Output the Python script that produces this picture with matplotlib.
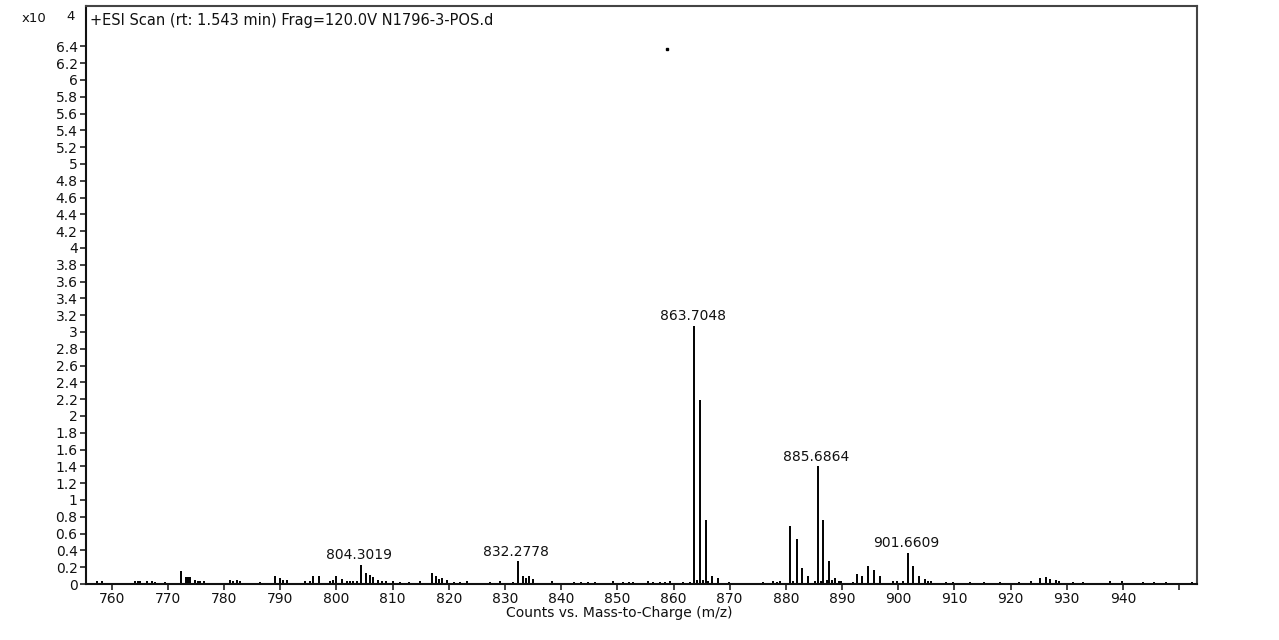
import numpy as np
import matplotlib
matplotlib.use("Agg")
import matplotlib.pyplot as plt
from matplotlib.ticker import FixedLocator

# m/z values and counts (x10^4)
mz = [757.3, 758.2, 762.0, 764.1, 764.6, 765.0, 766.2, 767.1, 767.7, 769.4,
      772.3, 773.2, 773.6, 774.0, 774.8, 775.3, 775.7, 776.4, 781.0, 781.6,
      782.3, 782.8, 786.3, 789.0, 789.9, 790.5, 791.2, 794.4, 795.2, 795.8,
      796.9, 798.8, 799.4, 800.0, 800.9, 801.8, 802.4, 803.0, 803.6, 804.3019,
      805.2, 805.9, 806.5, 807.4, 808.1, 808.9, 810.0, 811.3, 813.0, 814.8,
      817.0, 817.7, 818.2, 818.7, 819.6, 821.0, 822.0, 823.2, 827.3, 829.1,
      831.4, 832.2778, 833.2, 833.8, 834.2, 835.0, 838.3, 842.2, 843.5, 844.7,
      846.0, 849.2, 851.0, 852.0, 852.8, 855.4, 856.3, 857.6, 858.5, 859.3,
      861.7, 863.0, 863.7048, 864.2, 864.71, 865.2, 865.71, 866.2, 866.8, 867.9,
      869.9, 876.0, 877.7, 878.4, 879.0, 880.8, 881.3, 881.9, 882.9, 883.9,
      885.2, 885.6864, 886.2, 886.7, 887.3, 887.7, 888.3, 888.7, 889.4, 889.9,
      891.9, 892.7, 893.6, 894.6, 895.7, 896.7, 899.1, 899.8, 900.8, 901.6609,
      902.7, 903.7, 904.7, 905.3, 905.8, 908.6, 909.8, 912.8, 915.2, 918.1,
      921.5, 923.6, 925.2, 926.3, 927.1, 928.1, 928.7, 931.1, 932.9, 937.7,
      939.8, 943.6, 945.5, 947.6, 952.3]
counts = [0.03, 0.03, 0.01, 0.04, 0.03, 0.03, 0.03, 0.03, 0.02, 0.02,
          0.15, 0.08, 0.08, 0.08, 0.05, 0.04, 0.04, 0.03, 0.05, 0.04,
          0.05, 0.04, 0.02, 0.10, 0.07, 0.05, 0.05, 0.03, 0.03, 0.09,
          0.09, 0.03, 0.05, 0.09, 0.06, 0.04, 0.03, 0.03, 0.03, 0.23,
          0.13, 0.11, 0.08, 0.05, 0.04, 0.03, 0.03, 0.02, 0.02, 0.03,
          0.13, 0.09, 0.06, 0.07, 0.05, 0.02, 0.02, 0.03, 0.02, 0.03,
          0.02, 0.27, 0.09, 0.07, 0.09, 0.06, 0.03, 0.02, 0.02, 0.02,
          0.02, 0.03, 0.02, 0.02, 0.02, 0.03, 0.02, 0.02, 0.02, 0.03,
          0.02, 0.02, 3.07, 0.05, 2.19, 0.05, 0.76, 0.03, 0.09, 0.07,
          0.02, 0.02, 0.03, 0.02, 0.04, 0.69, 0.04, 0.54, 0.19, 0.10,
          0.04, 1.40, 0.04, 0.76, 0.05, 0.27, 0.05, 0.07, 0.03, 0.04,
          0.02, 0.12, 0.09, 0.21, 0.17, 0.09, 0.03, 0.03, 0.03, 0.37,
          0.21, 0.09, 0.06, 0.03, 0.04, 0.02, 0.02, 0.02, 0.02, 0.02,
          0.02, 0.03, 0.07, 0.08, 0.06, 0.05, 0.04, 0.02, 0.02, 0.03,
          0.03, 0.02, 0.02, 0.02, 0.02]

# labelled peaks
label_mz = [804.3019, 832.2778, 863.7048, 885.6864, 901.6609]
label_counts = [0.23, 0.27, 3.07, 1.40, 0.37]

title = "+ESI Scan (rt: 1.543 min) Frag=120.0V N1796-3-POS.d"
xlabel = "Counts vs. Mass-to-Charge (m/z)"
xtick_vals = list(range(760, 951, 10))
ytick_vals = [round(0.2 * i, 1) for i in range(33)]

plt.rcParams['font.family'] = ['DejaVu Sans']
fs = 10
fig = plt.figure(figsize=(12.79, 6.4), dpi=100)
ax = fig.add_axes([0.0672, 0.0875, 0.9359 - 0.0672, 0.9906 - 0.0875])

ax.vlines(mz, 0, counts, color='black', linewidth=1.4)
# stray speck in the plot area
ax.plot([858.9], [6.37], marker='s', markersize=1.5, color='black', linestyle='none')

for m, c in zip(label_mz, label_counts):
    ax.annotate(f"{m:.4f}", xy=(m, c), xytext=(-1, 2), textcoords='offset points',
                ha='center', va='bottom', fontsize=fs, color='#111111')

ax.set_xlim(755.4, 953.2)
ax.set_ylim(0, 6.88)

ax.xaxis.set_major_locator(FixedLocator(xtick_vals))
ax.set_xticklabels([str(v) if v <= 940 else "" for v in xtick_vals])
ax.yaxis.set_major_locator(FixedLocator(ytick_vals))
ax.set_yticklabels([f"{v:g}" for v in ytick_vals])
ax.tick_params(axis='both', direction='out', length=4, width=1.2, colors='#222222',
               labelsize=fs, labelcolor='#111111', pad=2)
ax.tick_params(top=False, right=False)

for s in ax.spines.values():
    s.set_linewidth(1.5)
    s.set_color('#444444')
ax.spines['bottom'].set_color('#111111')
ax.spines['left'].set_color('#111111')

ax.text(0.004, 0.988, title, transform=ax.transAxes, ha='left', va='top',
        fontsize=10.5, color='#111111')

fig.text(22 / 1279, 1 - 19 / 640, "x10", ha='left', va='center', fontsize=fs - 0.5, color='#111111')
fig.text(66 / 1279, 1 - 17 / 640, "4", ha='left', va='center', fontsize=fs - 0.5, color='#111111')

fig.text(619 / 1279, 1 - 613 / 640, xlabel, ha='center', va='center', fontsize=fs, color='#111111')

fig.savefig("out.png", dpi=100)
